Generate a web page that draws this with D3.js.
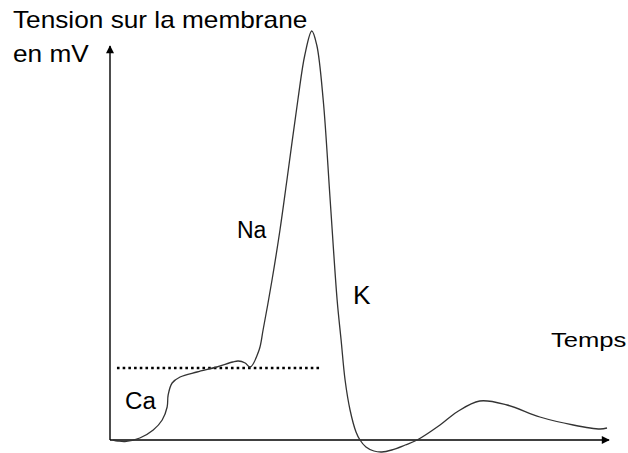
<!DOCTYPE html>
<html>
<head>
<meta charset="utf-8">
<script src="https://cdn.jsdelivr.net/npm/d3@7"></script>
<style>
  body { margin: 0; background: #fff; }
  text { font-family: "Liberation Sans", Arial, sans-serif; fill: #000; }
</style>
</head>
<body>
<script>
var temps   = [0.6, 1.6, 3.0, 6.0, 8.7, 10.5, 11.5, 11.7, 12.5, 14.1, 17.5, 21.5, 24.7, 25.8, 27.2, 28.2,
               30.0, 30.8, 32.6, 34.2, 35.6, 37.8, 39.2, 40.6, 41.6, 42.9, 44.3, 45.7, 46.5, 47.3, 48.3,
               49.5, 50.3, 51.5, 53.1, 54.7, 56.7, 59.4, 61.8, 66.4, 69.8, 74.4, 79.9, 86.5, 93.2, 98.6, 100];
var tension = [0, -0.25, -0.4, 0.5, 2.5, 5, 8.25, 11.25, 14.25, 15.75, 17, 18.25, 19.5, 19.75, 19.25, 18.25,
               22.5, 27.5, 40, 52.5, 65, 85, 96.25, 102.25, 98.75, 85, 60, 35, 25, 15, 7.5,
               2, 0, -1.75, -2.75, -3, -2.5, -1.25, 0, 3.75, 7, 9.75, 8.75, 5.75, 3.75, 2.75, 3];
var seuil = 18;           // ligne pointillée
var seuilDebut = 1.4, seuilFin = 42.6;

var labels = [
  {t: "Na",    x: 237, y: 238, size: 23, sx: 1.0},
  {t: "K",     x: 353, y: 304, size: 25, sx: 1.05},
  {t: "Ca",    x: 125, y: 409, size: 23, sx: 1.05},
  {t: "Temps", x: 551, y: 347, size: 21, sx: 1.22}
];

var width = 628, height = 453;

var svg = d3.select("body").append("svg")
    .attr("width", width)
    .attr("height", height);

var x = d3.scaleLinear().domain([0, 100]).range([110, 607]);
var y = d3.scaleLinear().domain([0, 102]).range([440, 32]);

var data = temps.map(function(t, i) { return [t, tension[i]]; });

// arrow heads
var defs = svg.append("defs");
defs.append("marker")
    .attr("id", "arrow")
    .attr("viewBox", "0 0 10 10")
    .attr("refX", 9).attr("refY", 5)
    .attr("markerWidth", 10).attr("markerHeight", 8)
    .attr("markerUnits", "userSpaceOnUse")
    .attr("orient", "auto")
  .append("path")
    .attr("d", "M0,0L10,5L0,10Z")
    .attr("fill", "#000");

// axes
svg.append("line")
    .attr("x1", x(0)).attr("y1", y(0))
    .attr("x2", x(100.4)).attr("y2", y(0))
    .attr("stroke", "#000").attr("stroke-width", 1.4)
    .attr("marker-end", "url(#arrow)");

svg.append("line")
    .attr("x1", x(0)).attr("y1", y(0))
    .attr("x2", x(0)).attr("y2", y(98.5))
    .attr("stroke", "#000").attr("stroke-width", 1.4)
    .attr("marker-end", "url(#arrow)");

// dotted threshold
svg.append("line")
    .attr("x1", x(seuilDebut)).attr("y1", y(seuil))
    .attr("x2", x(seuilFin)).attr("y2", y(seuil))
    .attr("stroke", "#000").attr("stroke-width", 2.6)
    .attr("stroke-dasharray", "2.6,3.1");

// the curve
var line = d3.line()
    .x(function(d) { return x(d[0]); })
    .y(function(d) { return y(d[1]); })
    .curve(d3.curveCatmullRom.alpha(0.5));

svg.append("path")
    .datum(data)
    .attr("d", line)
    .attr("fill", "none")
    .attr("stroke", "#333")
    .attr("stroke-width", 1.3);

// texts
var title = svg.append("text")
    .attr("transform", "translate(13,28) scale(1.14,1)")
    .style("font-size", "23px");
title.append("tspan").attr("x", 0).attr("y", 0).text("Tension sur la membrane");
title.append("tspan").attr("x", 0).attr("y", 34).text("en mV");

svg.selectAll(".lab")
    .data(labels)
  .enter().append("text")
    .attr("class", "lab")
    .attr("transform", function(d) { return "translate(" + d.x + "," + d.y + ") scale(" + d.sx + ",1)"; })
    .style("font-size", function(d) { return d.size + "px"; })
    .text(function(d) { return d.t; });
</script>
</body>
</html>
